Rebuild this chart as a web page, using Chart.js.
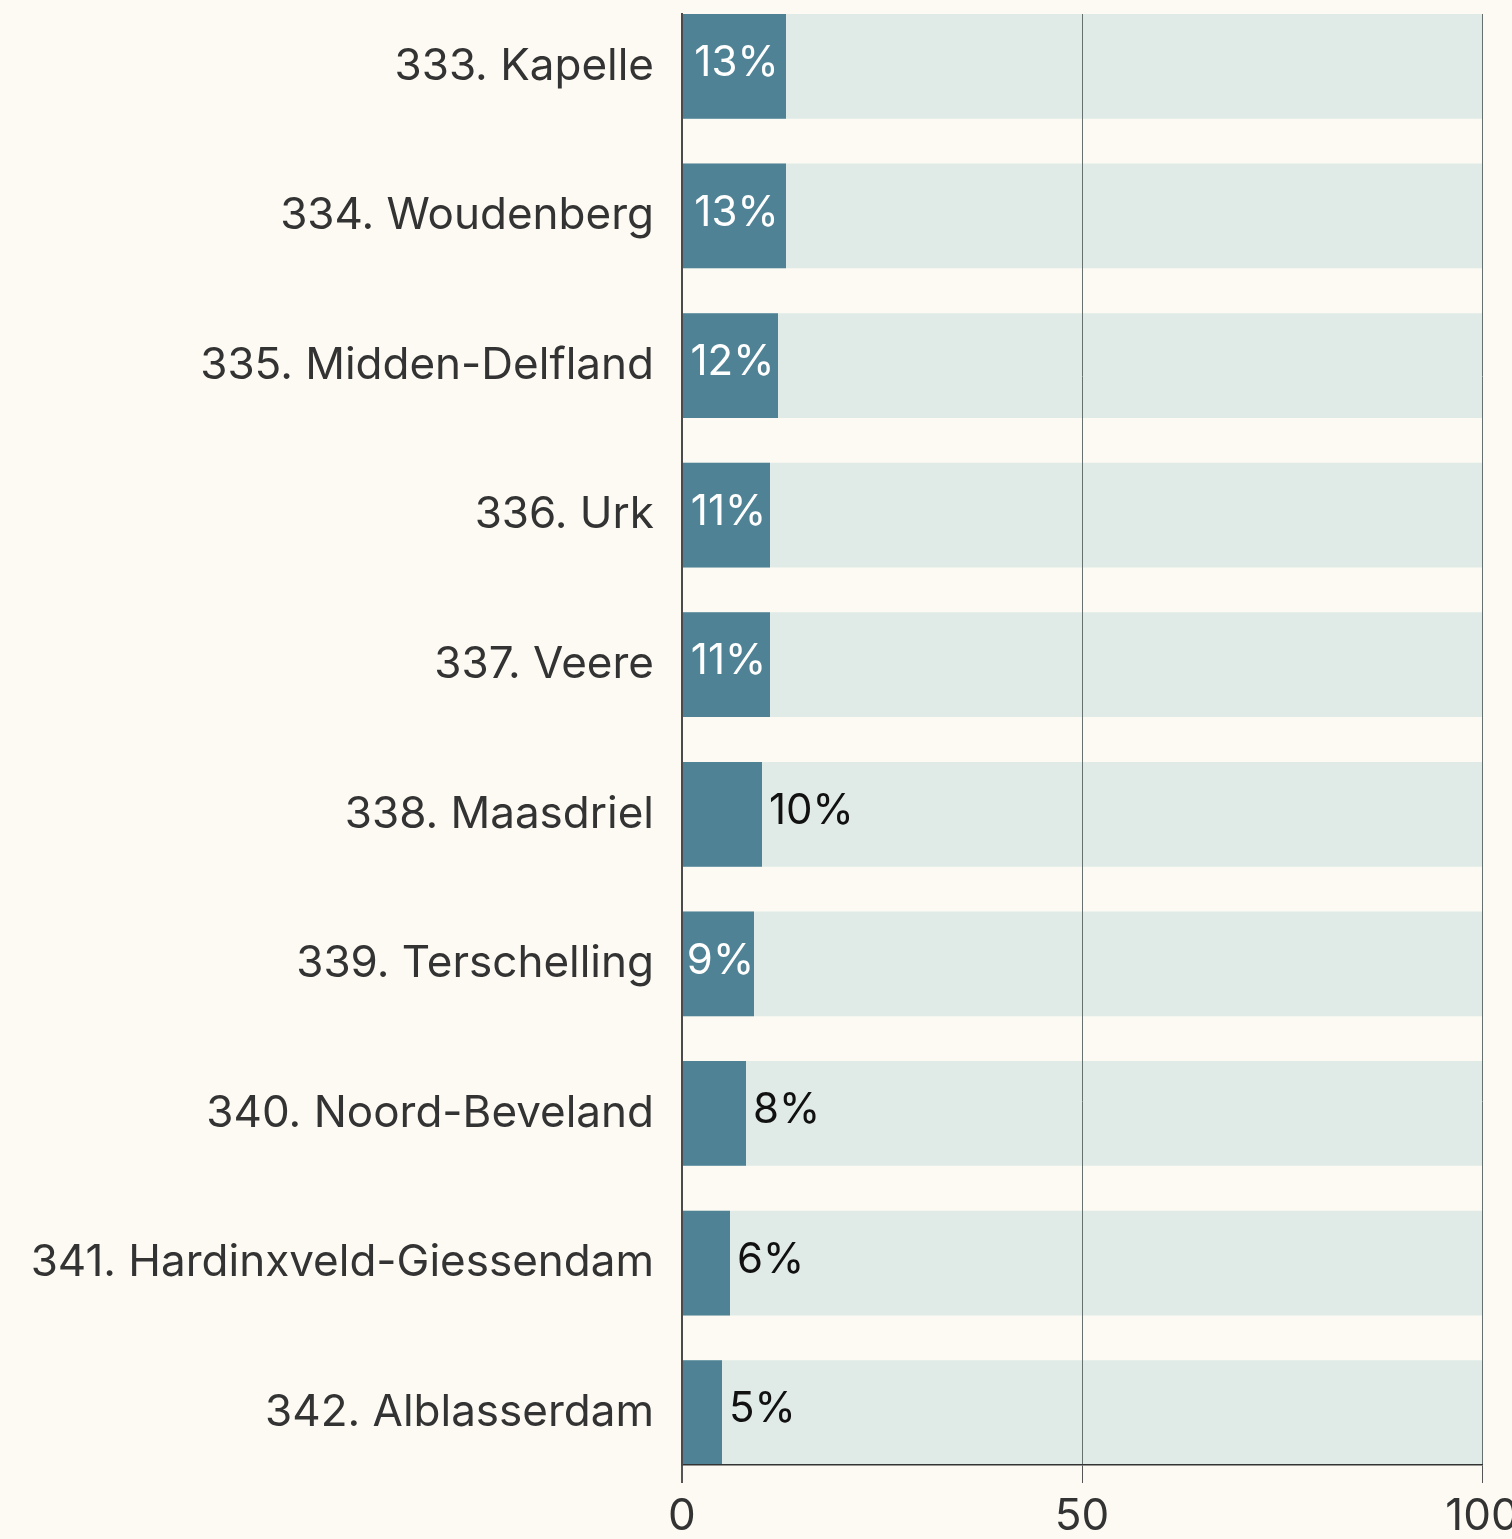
<!DOCTYPE html>
<html>
<head>
<meta charset="utf-8">
<script src="https://cdn.jsdelivr.net/npm/chart.js@4.4.1/dist/chart.umd.min.js"></script>
<style>
  html, body { margin: 0; padding: 0; background: #fcfaf2; overflow: hidden; }
  canvas { display: block; }
</style>
</head>
<body>
<canvas id="shareChart" width="1560" height="1539"></canvas>
<script>
// gemeenten, ranked
const municipalities = [
    "333. Kapelle",
    "334. Woudenberg",
    "335. Midden-Delfland",
    "336. Urk",
    "337. Veere",
    "338. Maasdriel",
    "339. Terschelling",
    "340. Noord-Beveland",
    "341. Hardinxveld-Giessendam",
    "342. Alblasserdam",
];
const shares = [13, 13, 12, 11, 11, 10, 9, 8, 6, 5];
const fullShare = 100;
const xTickValues = [0, 50, 100];

const FONT = "Inter, 'Noto Sans', sans-serif";

// percentage labels: white inside the bar when they fit, black just past the end otherwise
const valueLabels = {
    id: "valueLabels",
    afterDatasetsDraw(chart) {
        const ctx = chart.ctx;
        const meta = chart.getDatasetMeta(0);
        ctx.save();
        ctx.font = "42px " + FONT;
        ctx.textBaseline = "middle";
        meta.data.forEach((bar, i) => {
            const text = shares[i] + "%";
            const w = ctx.measureText(text).width;
            const barW = bar.x - bar.base;
            if (w + 2 < barW) {
                ctx.fillStyle = "#ffffff";
                ctx.textAlign = "center";
                ctx.fillText(text, (bar.x + bar.base) / 2 + 2, bar.y - 3);
            } else {
                ctx.fillStyle = "#111111";
                ctx.textAlign = "left";
                ctx.fillText(text, bar.x + 7, bar.y - 3);
            }
        });
        ctx.restore();
    },
};

const ctx = document.getElementById("shareChart").getContext("2d");
new Chart(ctx, {
    type: "bar",
    data: {
        datasets: [
            {
                data: shares.map((v, i) => ({ x: v, y: i })),
                backgroundColor: "#4e8294",
                grouped: false,
                order: 0,
                barPercentage: 0.7,
                categoryPercentage: 1,
            },
            {
                data: municipalities.map((_, i) => ({ x: fullShare, y: i })),
                backgroundColor: "#e0ebe8",
                grouped: false,
                order: 1,
                barPercentage: 0.7,
                categoryPercentage: 1,
            },
        ],
    },
    options: {
        indexAxis: "y",
        responsive: false,
        animation: false,
        layout: { padding: { top: 14, right: 78, left: 0, bottom: 0 } },
        plugins: {
            legend: { display: false },
            tooltip: { enabled: false },
        },
        scales: {
            y: {
                type: "linear",
                offset: false,
                min: -0.35,
                max: municipalities.length - 0.65,
                reverse: true,
                afterBuildTicks: (scale) => {
                    scale.ticks = municipalities.map((_, i) => ({ value: i }));
                },
                afterFit: (scale) => {
                    scale.width = 682;
                    scale.paddingTop = 0;
                    scale.paddingBottom = 0;
                },
                grid: { display: false, drawTicks: false },
                border: { display: true, color: "#4a4a4a", width: 2, z: 2 },
                ticks: {
                    autoSkip: false,
                    padding: 28,
                    color: "#333333",
                    font: { family: FONT, size: 44 },
                    callback: (value) => municipalities[value],
                },
            },
            x: {
                type: "linear",
                min: 0,
                max: fullShare,
                afterBuildTicks: (scale) => {
                    scale.ticks = xTickValues.map((v) => ({ value: v }));
                },
                afterFit: (scale) => {
                    scale.height = 74;
                    scale.paddingLeft = 0;
                    scale.paddingRight = 0;
                },
                grid: {
                    z: 1,
                    color: (c) => (c.tick && c.tick.value === 0 ? "#4a4a4a" : "#66706f"),
                    lineWidth: (c) => (c.tick && c.tick.value === 0 ? 2 : 1),
                    tickLength: 18,
                    tickColor: "#555555",
                },
                border: { display: true, color: "#333333", width: 1.5, z: 1 },
                ticks: {
                    padding: 12,
                    color: "#333333",
                    font: { family: FONT, size: 44, lineHeight: 1 },
                    maxRotation: 0,
                },
            },
        },
    },
    plugins: [valueLabels],
});
</script>
</body>
</html>
